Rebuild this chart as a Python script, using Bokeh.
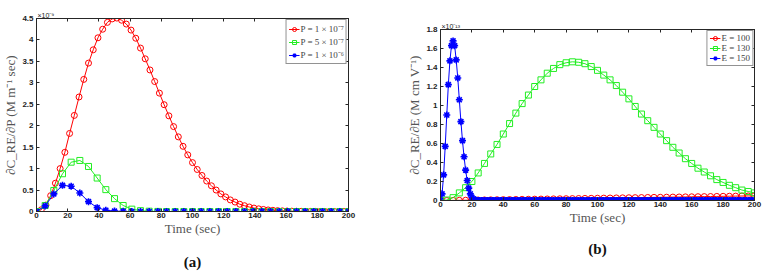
import numpy as np
from bokeh.plotting import figure
from bokeh.layouts import row
from bokeh.models import LinearAxis, FixedTicker, Legend, LegendItem, Range1d
from bokeh.embed import file_html
from bokeh.resources import INLINE

# ---------------- data: panel (a) (units of 1e-9) ----------------
t_a_red = np.linspace(0, 200, 67)
sens_p1e7 = [0, 0.04, 0.15, 0.37, 0.66, 1.00, 1.38, 1.82, 2.24, 2.67,
             3.08, 3.46, 3.77, 4.05, 4.25, 4.41, 4.49, 4.51, 4.46, 4.37,
             4.23, 4.04, 3.81, 3.56, 3.30, 3.03, 2.76, 2.49, 2.23, 1.98,
             1.74, 1.52, 1.32, 1.14, 0.98, 0.84, 0.71, 0.60, 0.50, 0.41,
             0.34, 0.27, 0.22, 0.17, 0.135, 0.105, 0.08, 0.062, 0.048, 0.036,
             0.027, 0.02, 0.015, 0.011, 0.008, 0.006, 0.004, 0.003, 0.002, 0.002,
             0.001, 0.001, 0.001, 0, 0, 0, 0]
t_a_gb = np.linspace(0, 200, 37)
sens_p5e7 = [0, 0.14, 0.49, 0.88, 1.15, 1.19, 1.05, 0.78, 0.51, 0.30,
             0.14, 0.055, 0.02, 0.007, 0.002] + [0.0] * 22
sens_p1e6 = [0, 0.13, 0.41, 0.61, 0.59, 0.43, 0.23, 0.09, 0.03, 0.01,
             0.003] + [0.0] * 26
yticks_a = [0, 0.5, 1, 1.5, 2, 2.5, 3, 3.5, 4, 4.5]
ylabels_a = ["0", "0.5", "1", "1.5", "2", "2.5", "3", "3.5", "4", "4.5"]

# ---------------- data: panel (b) (units of 1e-13) ----------------
t_b_rg = np.linspace(0, 200, 51)
sens_e100 = [0, 0, 0.001, 0.002, 0.003, 0.004, 0.005, 0.006, 0.007, 0.008,
             0.009, 0.010, 0.011, 0.012, 0.013, 0.014, 0.015, 0.016, 0.017, 0.018,
             0.019, 0.020, 0.021, 0.022, 0.023, 0.024, 0.025, 0.026, 0.027, 0.028,
             0.029, 0.030, 0.031, 0.032, 0.033, 0.034, 0.035, 0.036, 0.037, 0.038,
             0.039, 0.040, 0.041, 0.042, 0.043, 0.044, 0.045, 0.046, 0.047, 0.048,
             0.049]
sens_e130 = [0, 0.005, 0.03, 0.08, 0.135, 0.20, 0.29, 0.39, 0.49, 0.59,
             0.70, 0.81, 0.92, 1.02, 1.11, 1.20, 1.27, 1.34, 1.39, 1.43,
             1.45, 1.46, 1.455, 1.44, 1.41, 1.37, 1.32, 1.27, 1.21, 1.14,
             1.07, 0.99, 0.91, 0.84, 0.77, 0.70, 0.63, 0.56, 0.50, 0.44,
             0.39, 0.34, 0.30, 0.26, 0.22, 0.19, 0.16, 0.135, 0.11, 0.095,
             0.08]
t_b_blue = np.linspace(0, 200, 201)
sens_e150 = [0, 0.07, 0.27, 0.57, 0.90, 1.22, 1.47, 1.63, 1.68, 1.63,
             1.48, 1.29, 1.06, 0.83, 0.63, 0.46, 0.32, 0.21, 0.13, 0.07,
             0.035, 0.015, 0.007, 0.003, 0.001] + [0.0] * 176
yticks_b = [0, 0.2, 0.4, 0.6, 0.8, 1, 1.2, 1.4, 1.6, 1.8]
ylabels_b = ["0", "0.2", "0.4", "0.6", "0.8", "1", "1.2", "1.4", "1.6", "1.8"]

xticks = [0, 20, 40, 60, 80, 100, 120, 140, 160, 180, 200]

RED, GREEN, BLUE = "#ff0000", "#22ee22", "#0000ff"
AX = "#262626"
SERIF = "Liberation Serif"
SANS = "Liberation Sans"
LABEL_COLOR = "#555555"


def hidden_axis(ticks):
    return LinearAxis(ticker=FixedTicker(ticks=ticks), major_tick_in=3,
                      major_tick_out=0, minor_tick_line_color=None,
                      major_label_text_color=None,
                      major_label_text_font_size="0px", major_label_standoff=0,
                      axis_line_color=AX, major_tick_line_color=AX)


def make_fig(width, height, bl, br, bt, bb, ymax, yticks, ylabels, ylabel,
             expo, panel, panel_standoff):
    p = figure(width=width, height=height, output_backend="svg",
               toolbar_location=None, x_range=Range1d(0, 200),
               y_range=Range1d(0, ymax), min_border_left=bl,
               min_border_right=br, min_border_top=bt, min_border_bottom=bb,
               frame_align=False, title=expo)
    p.title.align = "left"
    p.title.text_font = SANS
    p.title.text_font_size = "7px"
    p.title.text_font_style = "normal"
    p.title.text_color = "#222222"
    p.title.standoff = 0
    p.title.offset = 1
    p.grid.visible = False
    p.outline_line_color = AX
    p.outline_line_width = 1
    p.xaxis.ticker = FixedTicker(ticks=xticks)
    p.yaxis.ticker = FixedTicker(ticks=yticks)
    p.yaxis.major_label_overrides = {v: s for v, s in zip(yticks, ylabels)}
    for ax in (p.xaxis[0], p.yaxis[0]):
        ax.major_tick_in = 3
        ax.major_tick_out = 0
        ax.minor_tick_line_color = None
        ax.axis_line_color = AX
        ax.major_tick_line_color = AX
        ax.major_label_text_font = SANS
        ax.major_label_text_font_size = "8px"
        ax.major_label_text_font_style = "bold"
        ax.major_label_text_color = "#222222"
        ax.major_label_standoff = 1
        ax.axis_label_text_font = SERIF
        ax.axis_label_text_font_size = "13px"
        ax.axis_label_text_font_style = "normal"
        ax.axis_label_text_color = LABEL_COLOR
        ax.axis_label_standoff = 0
    p.yaxis.major_label_standoff = 3
    p.yaxis.axis_label_standoff = 1
    p.xaxis.axis_label = "Time (sec)"
    p.yaxis.axis_label = ylabel
    p.add_layout(hidden_axis(xticks), "above")
    p.add_layout(hidden_axis(yticks), "right")
    # panel tag "(a)" / "(b)" below the x axis title
    tag = LinearAxis(ticker=FixedTicker(ticks=[]), axis_line_color=None,
                     major_tick_line_color=None, minor_tick_line_color=None,
                     major_tick_out=0, major_tick_in=0,
                     major_label_text_color=None, major_label_standoff=0,
                     axis_label=panel, axis_label_text_font=SERIF,
                     axis_label_text_font_size="15px",
                     axis_label_text_font_style="bold",
                     axis_label_text_color="#111111",
                     axis_label_standoff=panel_standoff)
    p.add_layout(tag, "below")
    return p


def add_series(p, t, y, color, marker, size, label):
    ln = p.line(t, y, line_color=color, line_width=1)
    lw = 1.6 if marker == "asterisk" else 1
    sc = p.scatter(t, y, marker=marker, size=size, line_color=color,
                   line_width=lw, fill_color=None)
    return LegendItem(label=label, renderers=[ln, sc])


def add_legend(p, items):
    lg = Legend(items=items, location="top_right", margin=1, padding=2,
                spacing=0, label_text_font=SERIF, label_text_font_size="9px",
                label_standoff=1, glyph_width=11, glyph_height=10,
                label_height=10, border_line_color=AX, border_line_width=1,
                background_fill_alpha=1)
    p.add_layout(lg)


# ---------------- panel (a) ----------------
p1 = make_fig(390, 272, 34, 42, 18, 60, 4.5, yticks_a, ylabels_a,
              "∂C_RE/∂P (M m⁻¹ sec)", "×10⁻⁹", "(a)", 15)
items_a = [
    add_series(p1, t_a_red, sens_p1e7, RED, "circle", 6, "P = 1 × 10⁻⁷"),
    add_series(p1, t_a_gb, sens_p5e7, GREEN, "square", 6, "P = 5 × 10⁻⁷"),
    add_series(p1, t_a_gb, sens_p1e6, BLUE, "asterisk", 7, "P = 1 × 10⁻⁶"),
]
add_legend(p1, items_a)

# ---------------- panel (b) ----------------
p2 = make_fig(383, 272, 50, 19, 29, 72, 1.8, yticks_b, ylabels_b,
              "∂C_RE/∂E (M cm V⁻¹)", "×10⁻¹³", "(b)", 13)
items_b = [
    add_series(p2, t_b_rg, sens_e100, RED, "circle", 6, "E = 100"),
    add_series(p2, t_b_rg, sens_e130, GREEN, "square", 6, "E = 130"),
    add_series(p2, t_b_blue, sens_e150, BLUE, "asterisk", 7, "E = 150"),
]
add_legend(p2, items_b)

layout = row(p1, p2)
html = file_html(layout, INLINE)
html = html.replace("<head>", "<head><style>html,body{overflow:hidden}</style>", 1)
open("out.html", "w").write(html)
